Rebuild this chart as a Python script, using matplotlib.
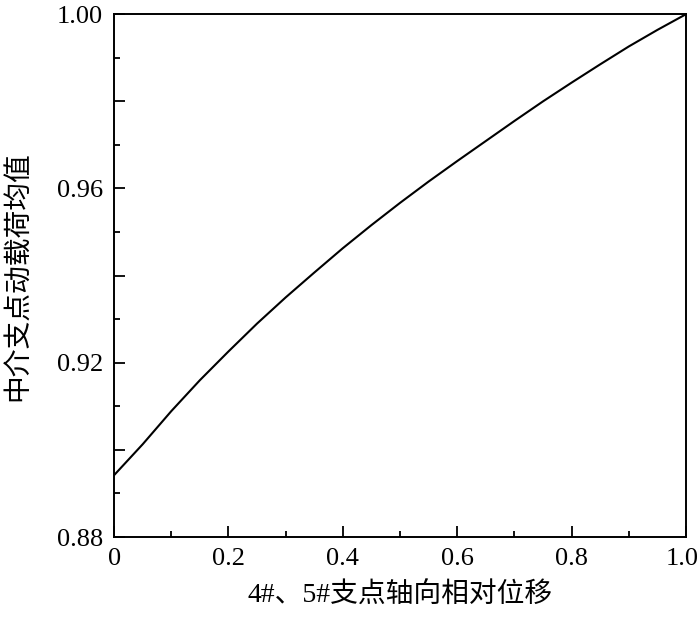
import matplotlib
matplotlib.use("Agg")
import matplotlib.pyplot as plt
import matplotlib.transforms as mtransforms
from matplotlib.ticker import MultipleLocator, FixedFormatter, FixedLocator

# Data
X_DISP = [0.0, 0.05, 0.10, 0.15, 0.20, 0.25, 0.30, 0.35, 0.40, 0.45, 0.50,
          0.55, 0.60, 0.65, 0.70, 0.75, 0.80, 0.85, 0.90, 0.95, 1.0]
LOAD_MEAN = [0.8942, 0.9013, 0.9089, 0.9160, 0.9226, 0.9290, 0.9350,
             0.9407, 0.9463, 0.9516, 0.9567, 0.9616, 0.9663, 0.9709,
             0.9755, 0.9800, 0.9843, 0.9885, 0.9926, 0.9964, 1.0]

X_TICKS = [0, 0.2, 0.4, 0.6, 0.8, 1.0]
X_TICK_LABELS = ['0', '0.2', '0.4', '0.6', '0.8', '1.0']
Y_TICKS = [0.88, 0.90, 0.92, 0.94, 0.96, 0.98, 1.00]
Y_TICK_LABELS = ['0.88', '', '0.92', '', '0.96', '', '1.00']

FONTS = ['Liberation Serif', 'Noto Sans CJK SC', 'DejaVu Sans']
plt.rcParams['font.family'] = FONTS

fig = plt.figure(figsize=(7.0, 6.18), dpi=100)
ax = fig.add_axes([0.163, 0.131, 0.817, 0.846])

ax.plot(X_DISP, LOAD_MEAN, color='black', linewidth=1.5)

ax.set_xlim(0, 1)
ax.set_ylim(0.88, 1.0)

ax.xaxis.set_major_locator(FixedLocator(X_TICKS))
ax.xaxis.set_major_formatter(FixedFormatter(X_TICK_LABELS))
ax.xaxis.set_minor_locator(MultipleLocator(0.1))
ax.yaxis.set_major_locator(FixedLocator(Y_TICKS))
ax.yaxis.set_major_formatter(FixedFormatter(Y_TICK_LABELS))
ax.yaxis.set_minor_locator(MultipleLocator(0.01))

ax.tick_params(which='both', direction='in', top=False, right=False,
               labelsize=19, width=1.3, pad=8)
ax.tick_params(which='major', length=8)
ax.tick_params(which='minor', length=4.5)

# last x label sits right at the figure edge, nudge it in a little
last = ax.xaxis.get_major_ticks()[-1].label1
last.set_transform(last.get_transform() +
                   mtransforms.ScaledTranslation(-4 / 100, 0, fig.dpi_scale_trans))

for s in ax.spines.values():
    s.set_linewidth(1.4)

ax.set_xlabel('4#、5#支点轴向相对位移', fontsize=20, labelpad=9)
ax.set_ylabel('中介支点动载荷均值', fontsize=20, labelpad=18)

fig.savefig('out.png', dpi=100)
